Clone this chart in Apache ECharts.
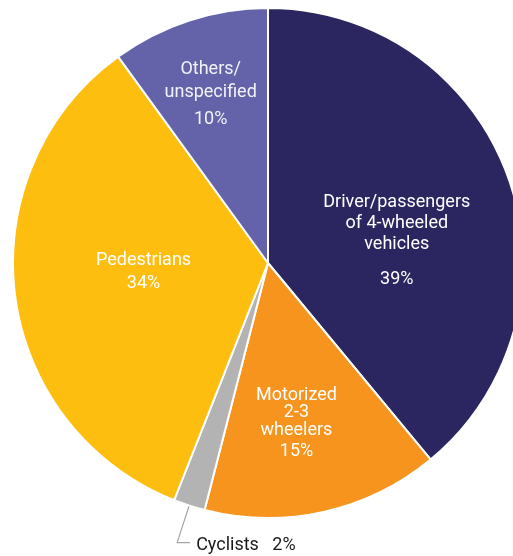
<!DOCTYPE html>
<html>
<head>
<meta charset="utf-8">
<script src="https://cdn.jsdelivr.net/npm/echarts@6/dist/echarts.min.js"></script>
<style>
  html, body { margin: 0; padding: 0; background: #ffffff; }
  #chart { width: 513px; height: 556px; }
</style>
</head>
<body>
<div id="chart"></div>
<script>
// Road traffic deaths by type of road user (share, %)
const categories = [
  'Driver/passengers\nof 4-wheeled\nvehicles',
  'Motorized\n2-3\nwheelers',
  'Cyclists',
  'Pedestrians',
  'Others/\nunspecified'
];
const shares = [39, 15, 2, 34, 10];

const sliceColors = ['#2b2660', '#f7941d', '#b3b3b3', '#fdbe10', '#6463aa'];

const FS = 18;
// Per-slice label styling (inside labels for the big slices, leader line for the thin one)
const insideRich = {
  driver: { n: { fontSize: FS, lineHeight: 21, color: '#ffffff' }, p: { fontSize: FS, lineHeight: 49, color: '#ffffff' } },
  moto:   { n: { fontSize: FS, lineHeight: 17.5, color: '#ffffff' }, p: { fontSize: FS, lineHeight: 25, color: '#ffffff' } },
  ped:    { n: { fontSize: FS, lineHeight: 23, color: '#ffffff' }, p: { fontSize: FS, lineHeight: 23, color: '#ffffff' } },
  other:  { n: { fontSize: FS, lineHeight: 23.5, color: '#f2f2fa' }, p: { fontSize: FS, lineHeight: 30, color: '#f2f2fa' } }
};
const richKeys = ['driver', 'moto', null, 'ped', 'other'];
const labelShift = [[6, 29], [0, 35], null, [5, -7], [-17, -43]];

const data = categories.map((name, i) => {
  const item = { name: name, value: shares[i], itemStyle: { color: sliceColors[i] } };
  if (richKeys[i]) {
    item.label = {
      show: true,
      position: 'inside',
      fontFamily: 'Roboto',
      formatter: (p) => '{n|' + p.name + '}\n{p|' + p.value + '%}',
      rich: insideRich[richKeys[i]]
    };
    item.labelLine = { show: false };
  } else {
    item.label = {
      show: true,
      position: 'outside',
      fontFamily: 'Roboto',
      fontSize: FS,
      color: '#1a1a1a',
      formatter: (p) => p.name + '   ' + p.value + '%'
    };
    item.labelLine = { show: true, length: 39, length2: 10, lineStyle: { color: '#a6a6a6', width: 1.2 } };
  }
  return item;
});

const chart = echarts.init(document.getElementById('chart'), null, { renderer: 'canvas' });
chart.setOption({
  animation: false,
  backgroundColor: '#ffffff',
  textStyle: { fontFamily: 'Roboto' },
  series: [{
    type: 'pie',
    center: [268, 263],
    radius: 255,
    startAngle: 90,
    clockwise: true,
    avoidLabelOverlap: false,
    itemStyle: { borderColor: '#ffffff', borderWidth: 2 },
    emphasis: { disabled: true },
    data: data,
    labelLayout: function (params) {
      const shift = labelShift[params.dataIndex];
      if (shift) {
        return { dx: shift[0], dy: shift[1] };
      }
      // Thin slice: bend the leader line to the right and put the text after it
      const pts = params.labelLinePoints;
      if (!pts) return {};
      const elbow = pts[1];
      const end = [elbow[0] + 13, elbow[1]];
      return {
        x: end[0] + 6,
        y: end[1] + 3,
        align: 'left',
        verticalAlign: 'middle',
        labelLinePoints: [pts[0], elbow, end]
      };
    }
  }]
});
</script>
</body>
</html>
